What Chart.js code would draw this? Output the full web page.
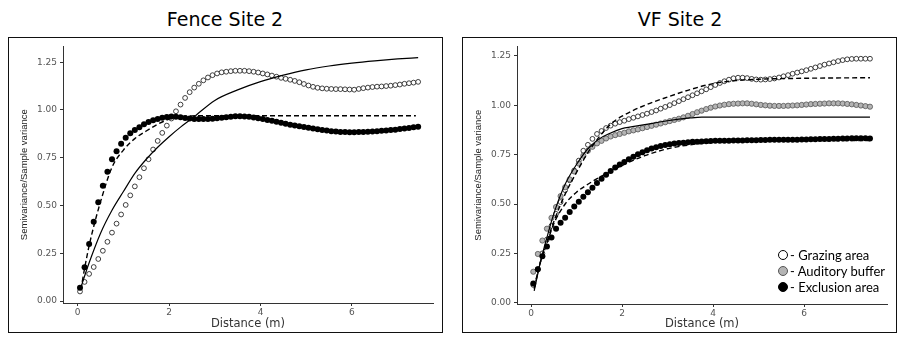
<!DOCTYPE html>
<html><head><meta charset="utf-8">
<script src="https://cdn.jsdelivr.net/npm/chart.js@4.4.0/dist/chart.umd.min.js"></script>
<style>
body{margin:0;background:#fff;width:914px;height:355px;position:relative;overflow:hidden;font-family:"DejaVu Sans",sans-serif;}
.title{position:absolute;top:7px;font-size:19px;color:#000;text-align:center;width:300px;line-height:24px;}
.box{position:absolute;top:37px;width:435px;height:296px;border:1px solid #111;box-sizing:border-box;}
.box canvas{position:absolute;left:0;top:0;}
.lg{position:absolute;font-family:Lato,sans-serif;font-size:13px;color:#000;line-height:16px;white-space:nowrap;}
.dot{position:absolute;width:10px;height:10px;border-radius:50%;box-sizing:border-box;border:1px solid #000;}
</style></head>
<body>
<div class="title" style="left:75px">Fence Site 2</div>
<div class="title" style="left:530px">VF Site 2</div>
<div class="box" style="left:8px"><canvas id="c1" width="433" height="294"></canvas></div>
<div class="box" style="left:462px"><canvas id="c2" width="433" height="294"></canvas></div>
<div class="dot" style="left:778px;top:250px;background:#fff"></div>
<div class="dot" style="left:778px;top:266px;background:#b4b4b4;border-color:#555"></div>
<div class="dot" style="left:778px;top:282px;background:#000"></div>
<div class="lg" style="left:790px;top:247px">- Grazing area</div>
<div class="lg" style="left:790px;top:263px">- Auditory buffer</div>
<div class="lg" style="left:790px;top:279px">- Exclusion area</div>
<script>
// ---- data ----
const distance = [0.05,0.15,0.25,0.35,0.45,0.55,0.65,0.75,0.85,0.95,1.05,1.15,1.25,1.35,1.45,1.55,1.65,1.75,1.85,1.95,2.05,2.15,2.25,2.35,2.45,2.55,2.65,2.75,2.85,2.95,3.05,3.15,3.25,3.35,3.45,3.55,3.65,3.75,3.85,3.95,4.05,4.15,4.25,4.35,4.45,4.55,4.65,4.75,4.85,4.95,5.05,5.15,5.25,5.35,5.45,5.55,5.65,5.75,5.85,5.95,6.05,6.15,6.25,6.35,6.45,6.55,6.65,6.75,6.85,6.95,7.05,7.15,7.25,7.35,7.45];

const fenceGrazing = [0.05,0.10,0.142,0.178,0.22,0.263,0.31,0.358,0.405,0.453,
0.503,0.553,0.60,0.648,0.695,0.742,0.793,0.838,0.88,0.918,
0.955,0.993,1.028,1.063,1.093,1.117,1.137,1.155,1.170,1.182,
1.191,1.197,1.200,1.203,1.205,1.205,1.205,1.203,1.200,1.196,
1.191,1.186,1.180,1.174,1.168,1.163,1.158,1.152,1.145,1.136,
1.128,1.121,1.116,1.113,1.111,1.110,1.109,1.109,1.108,1.107,
1.106,1.110,1.114,1.117,1.120,1.122,1.123,1.125,1.127,1.130,
1.133,1.137,1.140,1.143,1.147];

const fenceExclusion = [0.07,0.177,0.298,0.415,0.517,0.603,0.677,0.742,0.784,0.823,
0.855,0.878,0.895,0.91,0.925,0.937,0.946,0.953,0.959,0.963,
0.966,0.965,0.962,0.958,0.955,0.953,0.952,0.952,0.953,0.954,
0.956,0.959,0.962,0.965,0.967,0.967,0.966,0.964,0.961,0.957,
0.953,0.948,0.943,0.938,0.933,0.928,0.923,0.919,0.915,0.911,
0.907,0.903,0.899,0.895,0.892,0.889,0.887,0.885,0.884,0.883,
0.883,0.884,0.885,0.886,0.887,0.889,0.891,0.893,0.895,0.897,
0.900,0.903,0.906,0.909,0.912];

const fenceGrazingFitX = [0.05,0.25,0.5,0.75,1,1.25,1.5,1.75,2,2.25,2.5,3,3.5,4,4.5,5,5.5,6,6.5,7,7.45];
const fenceGrazingFitY = [0.057,0.20,0.355,0.475,0.573,0.668,0.742,0.805,0.86,0.91,0.955,1.05,1.105,1.148,1.182,1.21,1.23,1.245,1.257,1.267,1.274];
const fenceExclusionFitX = [0.07,0.15,0.25,0.35,0.5,0.75,1,1.25,1.5,1.75,2,2.25,2.5,3,7.4];
const fenceExclusionFitY = [0.06,0.17,0.29,0.39,0.52,0.70,0.79,0.85,0.89,0.925,0.952,0.964,0.969,0.97,0.97];

const vfGrazing = [0.09,0.17,0.25,0.32,0.39,0.45,0.51,0.57,0.62,0.67,
0.72,0.77,0.80,0.83,0.855,0.87,0.885,0.897,0.907,0.915,
0.922,0.93,0.937,0.944,0.951,0.958,0.966,0.974,0.983,0.992,
1.001,1.011,1.021,1.031,1.041,1.051,1.061,1.071,1.081,1.092,
1.103,1.113,1.122,1.13,1.137,1.14,1.14,1.138,1.134,1.131,
1.13,1.131,1.133,1.136,1.141,1.147,1.153,1.16,1.166,1.172,
1.178,1.185,1.192,1.199,1.206,1.212,1.218,1.224,1.229,1.233,
1.235,1.236,1.236,1.236,1.236];

const vfBuffer = [0.157,0.247,0.315,0.375,0.43,0.485,0.54,0.585,0.625,0.665,
0.705,0.745,0.77,0.79,0.807,0.82,0.832,0.842,0.849,0.855,
0.861,0.868,0.873,0.878,0.884,0.89,0.896,0.902,0.908,0.914,
0.92,0.926,0.932,0.939,0.947,0.956,0.965,0.973,0.981,0.988,
0.994,0.999,1.003,1.006,1.008,1.009,1.01,1.01,1.008,1.005,
1.002,1.0,0.998,0.997,0.997,0.997,0.998,0.999,1.0,1.002,
1.004,1.006,1.007,1.008,1.009,1.01,1.01,1.01,1.009,1.007,
1.005,1.002,0.999,0.996,0.993];

const vfExclusion = [0.097,0.17,0.235,0.285,0.33,0.375,0.405,0.43,0.46,0.487,
0.512,0.537,0.56,0.583,0.607,0.628,0.648,0.667,0.685,0.70,
0.713,0.727,0.74,0.752,0.762,0.772,0.781,0.788,0.794,0.799,
0.803,0.806,0.809,0.811,0.813,0.815,0.816,0.817,0.818,0.819,
0.82,0.82,0.821,0.821,0.822,0.822,0.822,0.823,0.823,0.823,
0.824,0.824,0.825,0.825,0.825,0.825,0.826,0.826,0.826,0.827,
0.827,0.828,0.828,0.829,0.829,0.83,0.831,0.831,0.832,0.832,
0.833,0.833,0.833,0.833,0.832];

const vfGrazingFitX = [0.07,0.2,0.35,0.5,0.75,1,1.25,1.5,1.75,2,2.5,3,3.5,4,4.5,5,6,7.45];
const vfGrazingFitY = [0.08,0.2,0.31,0.41,0.55,0.66,0.76,0.84,0.905,0.945,1.0,1.042,1.08,1.11,1.125,1.132,1.137,1.14];
const vfBufferFitX = [0.07,0.2,0.35,0.5,0.75,1,1.25,1.5,1.75,2,2.5,3,3.5,3.75,7.45];
const vfBufferFitY = [0.06,0.2,0.33,0.45,0.6,0.70,0.78,0.83,0.86,0.882,0.902,0.922,0.936,0.94,0.94];
const vfExclusionFitX = [0.07,0.2,0.35,0.5,0.75,1,1.25,1.5,1.75,2,2.5,3,3.5,4,4.5,5,7.45];
const vfExclusionFitY = [0.07,0.2,0.3,0.40,0.50,0.56,0.60,0.635,0.665,0.695,0.745,0.78,0.80,0.812,0.818,0.82,0.822];

const xTickValues = [0,2,4,6];
const yTickValues = [0,0.25,0.5,0.75,1.0,1.25];
const xAxisTitle = 'Distance (m)';
const yAxisTitle = 'Semivariance/Sample variance';

// ---- helpers ----
const pts = (xs, ys) => xs.map((x, i) => ({x: x, y: ys[i]}));
const solidLine = (xs, ys) => ({data: pts(xs, ys), showLine: true, borderColor: '#000', borderWidth: 1.2,
  pointRadius: 0, cubicInterpolationMode: 'monotone', order: 0});
const dashLine = (xs, ys) => ({data: pts(xs, ys), showLine: true, borderColor: '#000', borderWidth: 1.4,
  borderDash: [5, 3], pointRadius: 0, cubicInterpolationMode: 'monotone', order: 0});
const openPts = ys => ({data: pts(distance, ys), showLine: false, pointRadius: 2.4, pointBorderWidth: 0.8,
  pointBackgroundColor: '#fff', pointBorderColor: '#111', order: 3});
const grayPts = ys => ({data: pts(distance, ys), showLine: false, pointRadius: 2.6, pointBorderWidth: 0.8,
  pointBackgroundColor: '#b4b4b4', pointBorderColor: '#555', order: 2});
const blackPts = ys => ({data: pts(distance, ys), showLine: false, pointRadius: 3.0, pointBorderWidth: 0,
  pointBackgroundColor: '#000', pointBorderColor: '#000', order: 1});

function makeChart(id, datasets, xr, yr, yw, xh) {
  const axisCol = '#333';
  new Chart(document.getElementById(id), {
    type: 'scatter',
    data: {datasets: datasets},
    options: {
      responsive: false, animation: false, devicePixelRatio: 1, events: [],
      layout: {padding: {left: 0, top: 5, right: 9, bottom: 0}},
      plugins: {legend: {display: false}, tooltip: {enabled: false}},
      scales: {
        x: {type: 'linear', min: xr[0], max: xr[1],
          afterBuildTicks: s => { s.ticks = xTickValues.map(v => ({value: v})); },
          afterFit: s => { s.height = xh; },
          grid: {display: true, drawOnChartArea: false, drawTicks: true, tickLength: 3, color: axisCol, lineWidth: 1},
          border: {display: true, color: axisCol, width: 1},
          ticks: {color: '#555', font: {family: 'DejaVu Sans', size: 9}, padding: 1, maxRotation: 0,
            callback: v => String(v)},
          title: {display: true, text: xAxisTitle, color: '#333', font: {family: 'DejaVu Sans', size: 11.5},
            padding: {top: 0, bottom: 1}}
        },
        y: {type: 'linear', min: yr[0], max: yr[1],
          afterBuildTicks: s => { s.ticks = yTickValues.map(v => ({value: v})); },
          afterFit: s => { s.width = yw; },
          grid: {display: true, drawOnChartArea: false, drawTicks: true, tickLength: 3, color: axisCol, lineWidth: 1},
          border: {display: true, color: axisCol, width: 1},
          ticks: {color: '#555', font: {family: 'DejaVu Sans', size: 9}, padding: 3,
            callback: v => Number(v).toFixed(2)},
          title: {display: true, text: yAxisTitle, color: '#222', font: {family: 'Liberation Sans', size: 9.5},
            padding: {top: 10, bottom: 0}}
        }
      }
    }
  });
}

makeChart('c1', [
  solidLine(fenceGrazingFitX, fenceGrazingFitY),
  dashLine(fenceExclusionFitX, fenceExclusionFitY),
  openPts(fenceGrazing),
  blackPts(fenceExclusion)
], [-0.322, 7.775], [-0.0103, 1.3326], 54, 29);

makeChart('c2', [
  dashLine(vfGrazingFitX, vfGrazingFitY),
  solidLine(vfBufferFitX, vfBufferFitY),
  dashLine(vfExclusionFitX, vfExclusionFitY),
  openPts(vfGrazing),
  grayPts(vfBuffer),
  blackPts(vfExclusion)
], [-0.308, 7.824], [-0.0065, 1.2985], 54, 28);
</script>
</body></html>
